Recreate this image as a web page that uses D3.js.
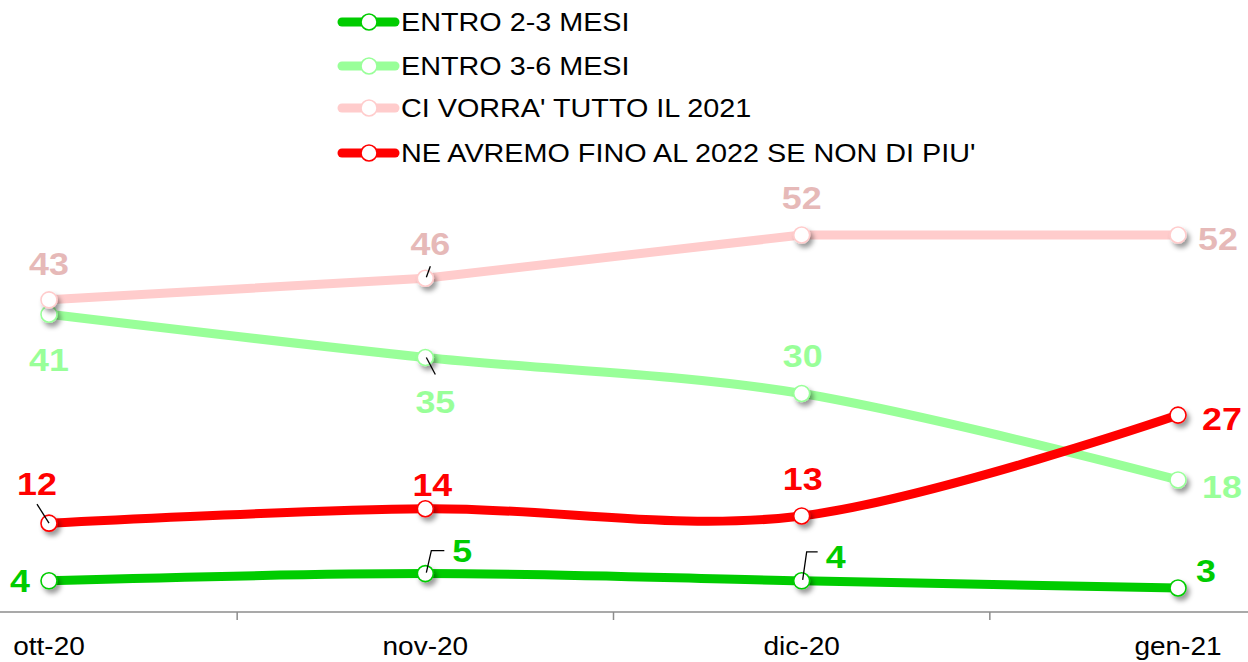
<!DOCTYPE html>
<html>
<head>
<meta charset="utf-8">
<script src="https://cdn.jsdelivr.net/npm/d3@7"></script>
<style>
  body { margin: 0; background: #fff; }
  text { font-family: Arial, "Liberation Sans", sans-serif; }
</style>
</head>
<body>
<div id="chart-area"></div>
<script>
const months = ["ott-20", "nov-20", "dic-20", "gen-21"];
const seriesNames = ["ENTRO 2-3 MESI", "ENTRO 3-6 MESI", "CI VORRA' TUTTO IL 2021", "NE AVREMO FINO AL 2022 SE NON DI PIU'"];
const entro23 = [4, 5, 4, 3];
const entro36 = [41, 35, 30, 18];
const tutto2021 = [43, 46, 52, 52];
const fino2022 = [12, 14, 13, 27];

const chartSize = { width: 1248, height: 662 };
const stretch = 1.12; // text in the reference is a bit wider than plain Arial

const series = [
  { name: seriesNames[0], values: entro23, line: "#00cc00", label: "#00cc00", smooth: true },
  { name: seriesNames[1], values: entro36, line: "#99ff99", label: "#99ff99", smooth: true },
  { name: seriesNames[2], values: tutto2021, line: "#ffcccc", label: "#e6b9b8", smooth: false },
  { name: seriesNames[3], values: fino2022, line: "#ff0000", label: "#ff0000", smooth: true }
];

// label offsets from the marker (dx = centre of text, dy = baseline), plus leader lines
const labelPos = [
  [{ dx: -29, dy: 11 }, { dx: 37, dy: -12, lead: [[1, -1], [6, -23], [19, -23]] }, { dx: 34, dy: -13, lead: [[1, -1], [5, -29], [16, -29]] }, { dx: 28, dy: -6 }],
  [{ dx: 0, dy: 57 }, { dx: 10, dy: 56, lead: [[1, 0], [10, 17]] }, { dx: 1, dy: -27 }, { dx: 44, dy: 18 }],
  [{ dx: 0, dy: -25 }, { dx: 5, dy: -23, lead: [[1, -1], [5, -12]] }, { dx: 0, dy: -26 }, { dx: 40, dy: 15 }],
  [{ dx: -12, dy: -28, lead: [[0, 0], [-12, -19]] }, { dx: 7, dy: -13 }, { dx: 1, dy: -26 }, { dx: 44, dy: 15 }]
];

const x = d3.scalePoint().domain(months).range([49, 1178]);
const y = d3.scaleLinear().domain([0, 60]).range([609.6, 177.4]);
const axisY = 612;

const svg = d3.select("#chart-area").append("svg")
  .attr("width", chartSize.width)
  .attr("height", chartSize.height);

const defs = svg.append("defs");
const shadow = defs.append("filter").attr("id", "shadow")
  .attr("x", "-60%").attr("y", "-60%").attr("width", "250%").attr("height", "250%");
shadow.append("feDropShadow")
  .attr("dx", 3).attr("dy", 4).attr("stdDeviation", 2.5)
  .attr("flood-color", "#000").attr("flood-opacity", 0.4);

const addText = (g, str, px, py, size, weight, fill, anchor) => {
  g.append("text")
    .attr("transform", `translate(${px},${py}) scale(${stretch},1)`)
    .attr("text-anchor", anchor)
    .attr("font-size", size)
    .attr("font-weight", weight)
    .attr("fill", fill)
    .text(str);
};

// x axis: line, ticks between categories, labels
const step = x.step();
svg.append("line")
  .attr("x1", 0).attr("x2", chartSize.width)
  .attr("y1", axisY).attr("y2", axisY)
  .attr("stroke", "#8c8c8c").attr("stroke-width", 1.5);
months.slice(1).forEach(m => {
  svg.append("line")
    .attr("x1", x(m) - step / 2).attr("x2", x(m) - step / 2)
    .attr("y1", axisY).attr("y2", axisY + 8)
    .attr("stroke", "#8c8c8c").attr("stroke-width", 1.5);
});
const axisLabels = svg.append("g");
months.forEach(m => addText(axisLabels, m, x(m), 655, 25, "normal", "#000", "middle"));

// lines (the pink series is drawn straight, the others smoothed)
const plot = svg.append("g");
series.forEach(s => {
  const line = d3.line()
    .x((d, i) => x(months[i]))
    .y(d => y(d))
    .curve(s.smooth ? d3.curveCardinal : d3.curveLinear);
  plot.append("path")
    .attr("d", line(s.values))
    .attr("fill", "none")
    .attr("stroke", s.line)
    .attr("stroke-width", 9)
    .attr("stroke-linejoin", "round");
});

// markers
series.forEach(s => {
  plot.selectAll(null).data(s.values).join("circle")
    .attr("cx", (d, i) => x(months[i]))
    .attr("cy", d => y(d))
    .attr("r", 8)
    .attr("fill", "#fff")
    .attr("stroke", s.line)
    .attr("stroke-width", 1.6)
    .attr("filter", "url(#shadow)");
});

// leader lines and data labels
const labels = svg.append("g");
series.forEach((s, si) => {
  s.values.forEach((v, i) => {
    const px = x(months[i]), py = y(v);
    const p = labelPos[si][i];
    if (p.lead) {
      labels.append("path")
        .attr("d", d3.line()(p.lead.map(([a, b]) => [px + a, py + b])))
        .attr("fill", "none")
        .attr("stroke", "#000")
        .attr("stroke-width", 1.3);
    }
    addText(labels, v, px + p.dx, py + p.dy, 32, "bold", s.label, "middle");
  });
});

// legend
const legend = svg.append("g");
const legendY = [22, 66, 108, 153];
series.forEach((s, i) => {
  legend.append("line")
    .attr("x1", 342).attr("x2", 395)
    .attr("y1", legendY[i]).attr("y2", legendY[i])
    .attr("stroke", s.line).attr("stroke-width", 9)
    .attr("stroke-linecap", "round");
  legend.append("circle")
    .attr("cx", 369).attr("cy", legendY[i]).attr("r", 8)
    .attr("fill", "#fff").attr("stroke", s.line).attr("stroke-width", 1.6);
  addText(legend, s.name, 401, legendY[i] + 9, 25.7, "normal", "#000", "start");
});
</script>
</body>
</html>
